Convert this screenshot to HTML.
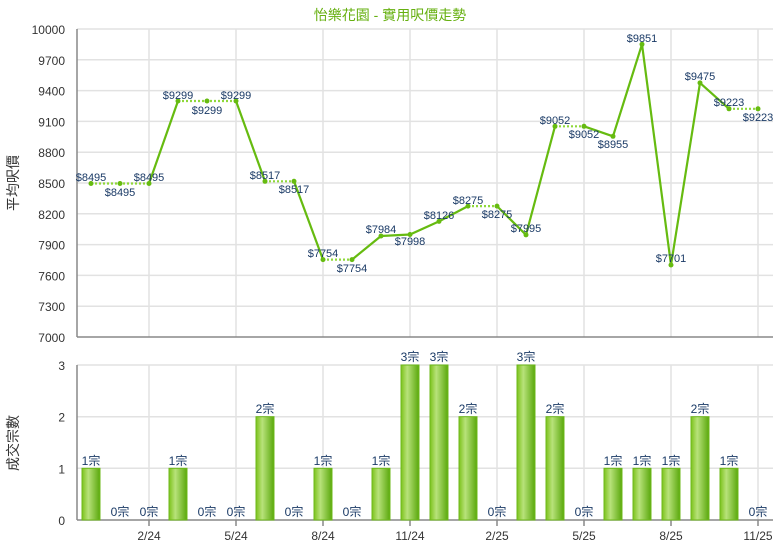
<!DOCTYPE html><html><head><meta charset="utf-8"><style>
body{margin:0;background:#fff;width:780px;height:550px;overflow:hidden}
svg text{font-family:"Liberation Sans","Noto Sans CJK TC",sans-serif}
</style></head><body>
<svg width="780" height="550" xmlns="http://www.w3.org/2000/svg">
<defs><linearGradient id="g" x1="0" x2="1"><stop offset="0" stop-color="#7cc21c"/><stop offset="0.35" stop-color="#b8e27a"/><stop offset="1" stop-color="#5aa80c"/></linearGradient></defs>
<text x="390" y="20" text-anchor="middle" font-size="14" fill="#66b010">怡樂花園 - 實用呎價走勢</text>
<g stroke="#e2e2e2" stroke-width="1.5">
<line x1="77" x2="773" y1="29" y2="29"/><line x1="77" x2="773" y1="59.8" y2="59.8"/><line x1="77" x2="773" y1="90.6" y2="90.6"/><line x1="77" x2="773" y1="121.4" y2="121.4"/><line x1="77" x2="773" y1="152.2" y2="152.2"/><line x1="77" x2="773" y1="183" y2="183"/><line x1="77" x2="773" y1="213.8" y2="213.8"/><line x1="77" x2="773" y1="244.6" y2="244.6"/><line x1="77" x2="773" y1="275.4" y2="275.4"/><line x1="77" x2="773" y1="306.2" y2="306.2"/>
<line x1="77" x2="773" y1="365" y2="365"/><line x1="77" x2="773" y1="416.7" y2="416.7"/><line x1="77" x2="773" y1="468.3" y2="468.3"/>
<line x1="149" x2="149" y1="29" y2="337"/><line x1="236" x2="236" y1="29" y2="337"/><line x1="323" x2="323" y1="29" y2="337"/><line x1="410" x2="410" y1="29" y2="337"/><line x1="497" x2="497" y1="29" y2="337"/><line x1="584" x2="584" y1="29" y2="337"/><line x1="671" x2="671" y1="29" y2="337"/><line x1="758" x2="758" y1="29" y2="337"/>
<line x1="149" x2="149" y1="365" y2="520"/><line x1="236" x2="236" y1="365" y2="520"/><line x1="323" x2="323" y1="365" y2="520"/><line x1="410" x2="410" y1="365" y2="520"/><line x1="497" x2="497" y1="365" y2="520"/><line x1="584" x2="584" y1="365" y2="520"/><line x1="671" x2="671" y1="365" y2="520"/><line x1="758" x2="758" y1="365" y2="520"/>
</g>
<g stroke="#888" stroke-width="1.5">
<line x1="77" x2="77" y1="29" y2="337"/><line x1="77" x2="773" y1="337" y2="337"/>
<line x1="77" x2="77" y1="365" y2="520"/><line x1="77" x2="773" y1="520" y2="520"/>
<line x1="149" x2="149" y1="520" y2="526"/><line x1="236" x2="236" y1="520" y2="526"/><line x1="323" x2="323" y1="520" y2="526"/><line x1="410" x2="410" y1="520" y2="526"/><line x1="497" x2="497" y1="520" y2="526"/><line x1="584" x2="584" y1="520" y2="526"/><line x1="671" x2="671" y1="520" y2="526"/><line x1="758" x2="758" y1="520" y2="526"/>
</g>
<g font-size="12" fill="#333" text-anchor="end">
<text x="65" y="34">10000</text><text x="65" y="64.8">9700</text><text x="65" y="95.6">9400</text><text x="65" y="126.4">9100</text><text x="65" y="157.2">8800</text><text x="65" y="188">8500</text><text x="65" y="218.8">8200</text><text x="65" y="249.6">7900</text><text x="65" y="280.4">7600</text><text x="65" y="311.2">7300</text><text x="65" y="342">7000</text>
<text x="65" y="370">3</text><text x="65" y="421.7">2</text><text x="65" y="473.3">1</text><text x="65" y="525">0</text>
</g>
<g font-size="12" fill="#333" text-anchor="middle">
<text x="149" y="540">2/24</text><text x="236" y="540">5/24</text><text x="323" y="540">8/24</text><text x="410" y="540">11/24</text><text x="497" y="540">2/25</text><text x="584" y="540">5/25</text><text x="671" y="540">8/25</text><text x="758" y="540">11/25</text>
</g>
<text transform="translate(18,183) rotate(-90)" font-size="14" fill="#333" text-anchor="middle">平均呎價</text>
<text transform="translate(18,443) rotate(-90)" font-size="14" fill="#333" text-anchor="middle">成交宗數</text>
<g fill="url(#g)" stroke="#6cb81a" stroke-width="1">
<rect x="82" y="468.3" width="18" height="51.7"/><rect x="169" y="468.3" width="18" height="51.7"/><rect x="256" y="416.7" width="18" height="103.3"/><rect x="314" y="468.3" width="18" height="51.7"/><rect x="372" y="468.3" width="18" height="51.7"/><rect x="401" y="365" width="18" height="155"/><rect x="430" y="365" width="18" height="155"/><rect x="459" y="416.7" width="18" height="103.3"/><rect x="517" y="365" width="18" height="155"/><rect x="546" y="416.7" width="18" height="103.3"/><rect x="604" y="468.3" width="18" height="51.7"/><rect x="633" y="468.3" width="18" height="51.7"/><rect x="662" y="468.3" width="18" height="51.7"/><rect x="691" y="416.7" width="18" height="103.3"/><rect x="720" y="468.3" width="18" height="51.7"/>
</g>
<g font-size="12" fill="#1a3a66" text-anchor="middle">
<text x="91" y="465">1宗</text><text x="120" y="516">0宗</text><text x="149" y="516">0宗</text><text x="178" y="465">1宗</text><text x="207" y="516">0宗</text><text x="236" y="516">0宗</text><text x="265" y="413">2宗</text><text x="294" y="516">0宗</text><text x="323" y="465">1宗</text><text x="352" y="516">0宗</text><text x="381" y="465">1宗</text><text x="410" y="361">3宗</text><text x="439" y="361">3宗</text><text x="468" y="413">2宗</text><text x="497" y="516">0宗</text><text x="526" y="361">3宗</text><text x="555" y="413">2宗</text><text x="584" y="516">0宗</text><text x="613" y="465">1宗</text><text x="642" y="465">1宗</text><text x="671" y="465">1宗</text><text x="700" y="413">2宗</text><text x="729" y="465">1宗</text><text x="758" y="516">0宗</text>
</g>
<g fill="none" stroke="#66bb10" stroke-width="2.2">
<polyline points="149,183.5 178,101"/><polyline points="236,101 265,181.3"/><polyline points="294,181.3 323,259.6"/><polyline points="352,259.6 381,236 410,234.5 439,221.4 468,206.1"/><polyline points="497,206.1 526,234.9 555,126.3"/><polyline points="584,126.3 613,136.3 642,44.3 671,265 700,82.9 729,108.8"/>
</g>
<g fill="none" stroke="#8fd83a" stroke-width="2.2" stroke-dasharray="2,2">
<polyline points="91,183.5 149,183.5"/><polyline points="178,101 236,101"/><polyline points="265,181.3 294,181.3"/><polyline points="323,259.6 352,259.6"/><polyline points="468,206.1 497,206.1"/><polyline points="555,126.3 584,126.3"/><polyline points="729,108.8 758,108.8"/>
</g>
<g fill="#66bb10">
<circle cx="91" cy="183.5" r="2.5"/><circle cx="120" cy="183.5" r="2.5"/><circle cx="149" cy="183.5" r="2.5"/><circle cx="178" cy="101" r="2.5"/><circle cx="207" cy="101" r="2.5"/><circle cx="236" cy="101" r="2.5"/><circle cx="265" cy="181.3" r="2.5"/><circle cx="294" cy="181.3" r="2.5"/><circle cx="323" cy="259.6" r="2.5"/><circle cx="352" cy="259.6" r="2.5"/><circle cx="381" cy="236" r="2.5"/><circle cx="410" cy="234.5" r="2.5"/><circle cx="439" cy="221.4" r="2.5"/><circle cx="468" cy="206.1" r="2.5"/><circle cx="497" cy="206.1" r="2.5"/><circle cx="526" cy="234.9" r="2.5"/><circle cx="555" cy="126.3" r="2.5"/><circle cx="584" cy="126.3" r="2.5"/><circle cx="613" cy="136.3" r="2.5"/><circle cx="642" cy="44.3" r="2.5"/><circle cx="671" cy="265" r="2.5"/><circle cx="700" cy="82.9" r="2.5"/><circle cx="729" cy="108.8" r="2.5"/><circle cx="758" cy="108.8" r="2.5"/>
</g>
<g font-size="11" fill="#1a3a66" text-anchor="middle">
<text x="91" y="181">$8495</text><text x="120" y="196">$8495</text><text x="149" y="181">$8495</text><text x="178" y="99">$9299</text><text x="207" y="114">$9299</text><text x="236" y="99">$9299</text><text x="265" y="179">$8517</text><text x="294" y="193">$8517</text><text x="323" y="257">$7754</text><text x="352" y="272">$7754</text><text x="381" y="233">$7984</text><text x="410" y="245">$7998</text><text x="439" y="219">$8126</text><text x="468" y="204">$8275</text><text x="497" y="218">$8275</text><text x="526" y="232">$7995</text><text x="555" y="124">$9052</text><text x="584" y="138">$9052</text><text x="613" y="148">$8955</text><text x="642" y="42">$9851</text><text x="671" y="262">$7701</text><text x="700" y="80">$9475</text><text x="729" y="106">$9223</text><text x="758" y="121">$9223</text>
</g>
</svg>
</body></html>
